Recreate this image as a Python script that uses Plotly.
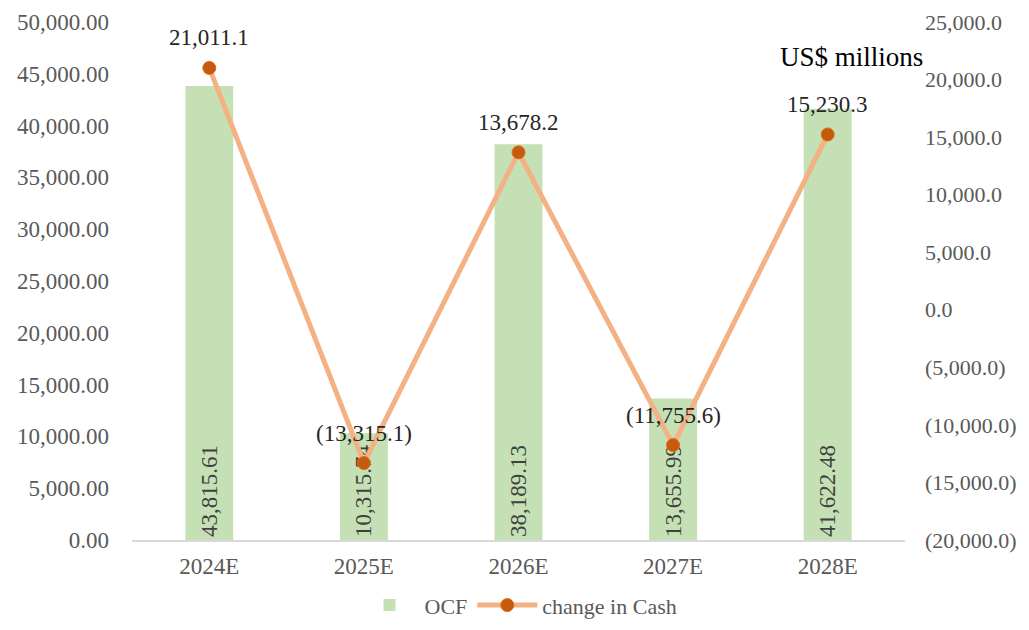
import plotly.graph_objects as go

categories = ["2024E", "2025E", "2026E", "2027E", "2028E"]
ocf = [43815.61, 10315.74, 38189.13, 13655.99, 41622.48]
change_in_cash = [21011.1, -13315.1, 13678.2, -11755.6, 15230.3]
left_ticks = list(range(0, 50001, 5000))
right_ticks = list(range(-20000, 25001, 5000))


def paren(v, d):
    s = f"{abs(v):,.{d}f}"
    return f"({s})" if v < 0 else s


FONT = "Liberation Serif, Times New Roman, serif"
GRAY = "#595959"
FS = 23

fig = go.Figure()
fig.add_trace(go.Bar(
    x=categories, y=ocf, name="OCF",
    marker=dict(color="#C5E0B4", line=dict(width=0)),
    width=0.31,
    text=[f"{v:,.2f}" for v in ocf],
    textposition="inside", insidetextanchor="start", textangle=-90,
    constraintext="none",
    textfont=dict(family=FONT, size=FS, color="#404040"),
    yaxis="y",
))
fig.add_trace(go.Scatter(
    x=categories, y=change_in_cash, name="change in Cash",
    mode="lines+markers",
    line=dict(color="#F4B183", width=5),
    marker=dict(color="#C55A11", size=13, line=dict(color="#E46C0A", width=1)),
    yaxis="y2",
))

annotations = [
    dict(x=c, y=v, xref="x", yref="y2", text=paren(v, 1), showarrow=False,
         yshift=30, font=dict(family=FONT, size=FS, color="#262626"))
    for c, v in zip(categories, change_in_cash)
]
annotations.append(dict(text="US$ millions", xref="paper", yref="paper",
                        x=1.026, y=0.932, xanchor="right", yanchor="middle",
                        showarrow=False,
                        font=dict(family=FONT, size=27, color="#000000")))

fig.update_layout(
    width=1021, height=614,
    paper_bgcolor="white", plot_bgcolor="white",
    margin=dict(l=124, r=124, t=14, b=82, autoexpand=False),
    font=dict(family=FONT, size=FS, color=GRAY),
    showlegend=True,
    legend=dict(orientation="h", x=0.5, xanchor="center", y=-0.126, yanchor="middle",
                font=dict(family=FONT, size=22, color=GRAY), itemwidth=60,
                traceorder="normal"),
    xaxis=dict(showline=True, linecolor="#D9D9D9", linewidth=1.5, ticks="",
               tickfont=dict(family=FONT, size=FS, color=GRAY), showgrid=False,
               ticklabelstandoff=5),
    yaxis=dict(range=[0, 50000], tickvals=left_ticks,
               ticktext=[f"{v:,.2f}" for v in left_ticks],
               showgrid=False, zeroline=False, showline=False,
               tickfont=dict(family=FONT, size=FS, color=GRAY), ticklabelstandoff=22),
    yaxis2=dict(range=[-20000, 25000], tickvals=right_ticks,
                ticktext=[paren(v, 1) for v in right_ticks],
                overlaying="y", side="right", showgrid=False, zeroline=False,
                showline=False,
                tickfont=dict(family=FONT, size=22, color=GRAY), ticklabelstandoff=19),
    annotations=annotations,
)

fig.write_html("out.html")
